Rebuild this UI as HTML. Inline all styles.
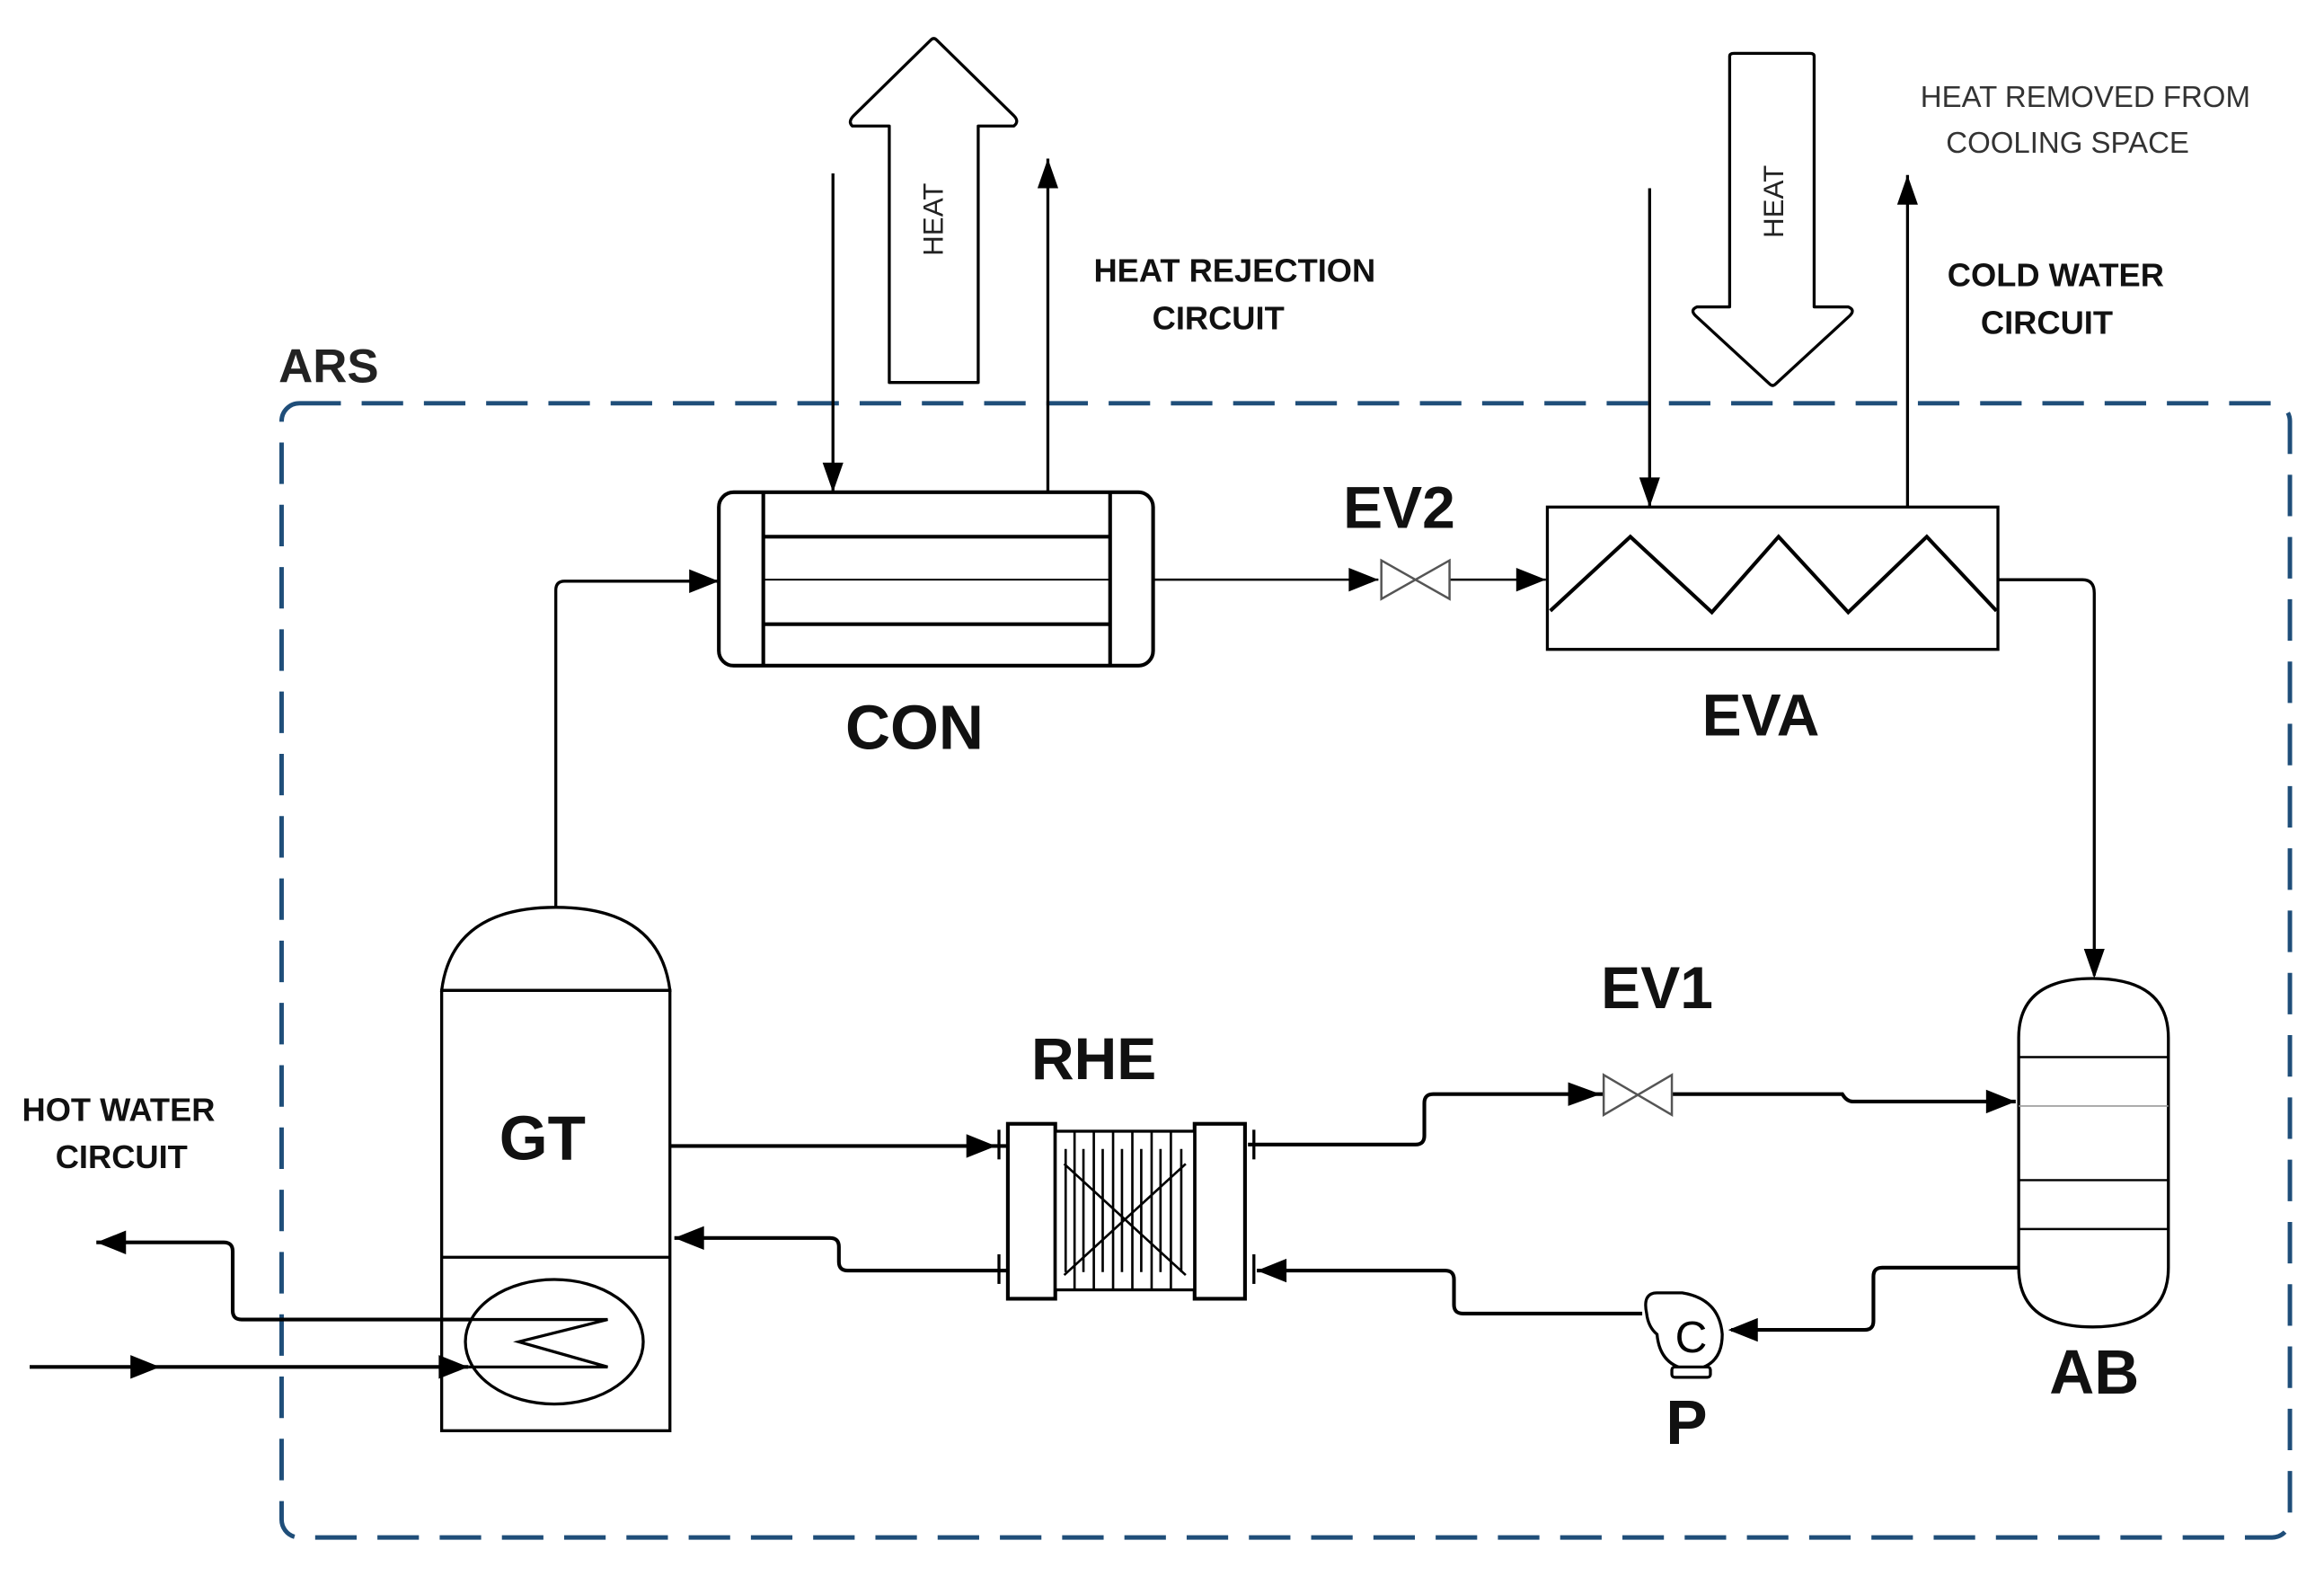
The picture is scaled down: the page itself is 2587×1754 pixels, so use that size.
<!DOCTYPE html>
<html><head><meta charset="utf-8"><style>
html,body{margin:0;padding:0;background:#fff;}
svg{display:block;}
text{font-family:"Liberation Sans",Arial,sans-serif;}
</style></head><body>
<svg width="2587" height="1754" viewBox="0 0 1568 1063" preserveAspectRatio="none" xmlns="http://www.w3.org/2000/svg">
<defs>
<marker id="a" viewBox="0 0 10 10" refX="10" refY="5" markerWidth="7" markerHeight="7" orient="auto" markerUnits="userSpaceOnUse"><path d="M0,0 L10,5 L0,10 z" fill="#000"/></marker>
</defs>
<rect width="1568" height="1063" fill="#fff"/>
<!-- dashed boundary -->
<rect x="190" y="272" width="1355" height="765" rx="12" fill="none" stroke="#1f4e79" stroke-width="3" stroke-dasharray="28 14"/>
<text x="188" y="258" font-size="32" font-weight="bold" fill="#222">ARS</text>

<g fill="none" stroke="#000" stroke-width="2.5">
<!-- CON -->
<rect x="485" y="332" width="293" height="117" rx="10" fill="#fff"/>
<line x1="515" y1="332" x2="515" y2="449"/><line x1="749" y1="332" x2="749" y2="449"/>
<line x1="515" y1="362" x2="749" y2="362"/><line x1="515" y1="421" x2="749" y2="421"/>
<line x1="515" y1="391" x2="749" y2="391" stroke-width="1.2"/>
<!-- GT to CON -->
<path d="M375,612 V398 Q375,392 381,392 H485" stroke-width="2" marker-end="url(#p)"/>
<!-- heat rejection lines -->
<line x1="562" y1="117" x2="562" y2="332" stroke-width="2"/>
<line x1="707" y1="332" x2="707" y2="107" stroke-width="2"/>
<!-- CON to EV2 -->
<line x1="778" y1="391" x2="930" y2="391" stroke-width="1.5"/>
<line x1="978" y1="391" x2="1043" y2="391" stroke-width="1.5"/>
<!-- EVA -->
<rect x="1044" y="342" width="304" height="96" fill="#fff" stroke-width="2"/>
<line x1="1044" y1="412" x2="1348" y2="412" stroke-width="0"/>
<polyline points="1046,412 1100,362 1155,413 1200,362 1247,413 1300,362 1347,412" stroke-width="2.5"/>
<line x1="1113" y1="127" x2="1113" y2="342" stroke-width="2"/>
<line x1="1287" y1="342" x2="1287" y2="118" stroke-width="2"/>
<!-- EVA to AB -->
<path d="M1348,391 H1405 Q1413,391 1413,400 V658" stroke-width="2"/>
<!-- AB -->
<path d="M1362,700 Q1362,660 1412,660 Q1463,660 1463,700 V855 Q1463,895 1412,895 Q1362,895 1362,855 Z" fill="#fff" stroke-width="2"/>
<line x1="1362" y1="713" x2="1463" y2="713" stroke-width="1.5"/>
<line x1="1362" y1="746" x2="1463" y2="746" stroke-width="1" stroke="#999"/>
<line x1="1362" y1="796" x2="1463" y2="796" stroke-width="1.5"/>
<line x1="1362" y1="829" x2="1463" y2="829" stroke-width="1.5"/>
<!-- RHE to EV1 -->
<path d="M842,772 H955 Q961,772 961,766 V744 Q961,738 967,738 H1082" stroke-width="2.5"/>
<path d="M1128,738 H1243 Q1246,743 1250,743 H1360" stroke-width="2.5"/>
<!-- AB to pump -->
<path d="M1362,855 H1270 Q1264,855 1264,861 V891 Q1264,897 1258,897 H1168" stroke-width="2.5"/>
<!-- pump to RHE -->
<path d="M1108,886 H987 Q981,886 981,880 V863 Q981,857 975,857 H848" stroke-width="2.5"/>
<!-- pump -->
<path d="M1111,886 Q1108,872 1118,872 H1135 Q1160,876 1162,900 Q1162,922 1141,924 Q1120,922 1118,900 Q1112,895 1111,886 Z" fill="#fff" stroke-width="2"/>
<rect x="1128" y="922" width="26" height="7" rx="2" fill="#fff" stroke-width="2"/>
<!-- RHE -->
<rect x="680" y="758" width="32" height="118" fill="#fff"/>
<rect x="806" y="758" width="34" height="118" fill="#fff"/>
<rect x="712" y="763" width="94" height="107" fill="#fff" stroke-width="2"/>
<g stroke-width="1.6">
<line x1="725" y1="763" x2="725" y2="870"/><line x1="738" y1="763" x2="738" y2="870"/><line x1="751" y1="763" x2="751" y2="870"/>
<line x1="764" y1="763" x2="764" y2="870"/><line x1="777" y1="763" x2="777" y2="870"/><line x1="790" y1="763" x2="790" y2="870"/>
<line x1="719" y1="775" x2="719" y2="858"/><line x1="731" y1="775" x2="731" y2="858"/><line x1="744" y1="775" x2="744" y2="858"/>
<line x1="757" y1="775" x2="757" y2="858"/><line x1="770" y1="775" x2="770" y2="858"/><line x1="783" y1="775" x2="783" y2="858"/><line x1="797" y1="775" x2="797" y2="858"/>
<line x1="718" y1="785" x2="800" y2="860"/><line x1="800" y1="785" x2="718" y2="860"/>
</g>
<line x1="674" y1="762" x2="674" y2="782" stroke-width="2"/><line x1="674" y1="846" x2="674" y2="866" stroke-width="2"/>
<line x1="846" y1="762" x2="846" y2="782" stroke-width="2"/><line x1="846" y1="846" x2="846" y2="866" stroke-width="2"/>
<!-- GT to RHE -->
<line x1="452" y1="773" x2="680" y2="773" stroke-width="2.5"/>
<path d="M680,857 H572 Q566,857 566,851 V841 Q566,835 560,835 H455" stroke-width="2.5"/>
<!-- GT -->
<path d="M298,668 Q305,612 375,612 Q445,612 452,668 Z" fill="#fff" stroke-width="2"/>
<rect x="298" y="668" width="154" height="297" fill="none" stroke-width="2"/>
<line x1="298" y1="848" x2="452" y2="848" stroke-width="2"/>
<ellipse cx="374" cy="905" rx="60" ry="42" fill="#fff" stroke-width="2"/>
<polyline points="318,890 410,890 350,905 410,922 316,922" stroke-width="2"/>
<!-- hot water -->
<path d="M318,890 H163 Q157,890 157,884 V844 Q157,838 151,838 H65" stroke-width="2.5"/>
<line x1="20" y1="922" x2="316" y2="922" stroke-width="2.5"/>
</g>
<!-- arrowheads -->
<g fill="#000">
<path d="M485,392 l-20,-8 v16 z"/>
<path d="M562,332 l-7,-20 h14 z"/>
<path d="M707,107 l-7,20 h14 z"/>
<path d="M930,391 l-20,-8 v16 z"/>
<path d="M1043,391 l-20,-8 v16 z"/>
<path d="M1113,342 l-7,-20 h14 z"/>
<path d="M1287,118 l-7,20 h14 z"/>
<path d="M1413,660 l-7,-20 h14 z"/>
<path d="M1080,738 l-22,-8 v16 z"/>
<path d="M1360,743 l-20,-8 v16 z"/>
<path d="M1166,897 l20,-8 v16 z"/>
<path d="M848,857 l20,-8 v16 z"/>
<path d="M672,773 l-20,-8 v16 z"/>
<path d="M455,835 l20,-8 v16 z"/>
<path d="M65,838 l20,-8 v16 z"/>
<path d="M108,922 l-20,-8 v16 z"/>
<path d="M316,922 l-20,-8 v16 z"/>
</g>
<!-- valves -->
<g fill="#fff" stroke="#555" stroke-width="1.5">
<path d="M932,378 L978,404 V378 L932,404 Z"/>
<path d="M1082,725 L1128,752 V725 L1082,752 Z"/>
</g>
<!-- big hollow arrows -->
<path d="M600,258 V85 H575 Q572,82 576,78 L628,27 Q630,25 632,27 L684,78 Q688,82 684,85 H660 V258 Z" fill="#fff" stroke="#000" stroke-width="2" stroke-linejoin="round"/>
<text transform="translate(636,148) rotate(-90)" font-size="19" text-anchor="middle" fill="#222">HEAT</text>
<path d="M1167,38 Q1167,36 1170,36 H1221 Q1224,36 1224,38 V207 H1247 Q1252,209 1248,213 L1198,259 Q1196,261 1194,259 L1144,213 Q1140,209 1145,207 H1167 Z" fill="#fff" stroke="#000" stroke-width="2" stroke-linejoin="round"/>
<text transform="translate(1203,136) rotate(-90)" font-size="19" text-anchor="middle" fill="#222">HEAT</text>
<!-- pump C -->
<text x="1141" y="912" font-size="30" text-anchor="middle" fill="#000">C</text>
<!-- labels -->
<g font-weight="bold" fill="#111" text-anchor="middle">
<text x="617" y="505" font-size="42">CON</text>
<text x="944" y="356" font-size="40">EV2</text>
<text x="1188" y="496" font-size="40">EVA</text>
<text x="1118" y="680" font-size="40">EV1</text>
<text x="738" y="728" font-size="40">RHE</text>
<text x="366" y="782" font-size="42">GT</text>
<text x="1413" y="940" font-size="42">AB</text>
<text x="1138" y="974" font-size="42">P</text>
<text x="833" y="190" font-size="22">HEAT REJECTION</text>
<text x="822" y="222" font-size="22">CIRCUIT</text>
<text x="1387" y="193" font-size="22">COLD WATER</text>
<text x="1381" y="225" font-size="22">CIRCUIT</text>
<text x="80" y="756" font-size="22">HOT WATER</text>
<text x="82" y="788" font-size="22">CIRCUIT</text>
</g>
<g fill="#333" text-anchor="middle" font-size="20">
<text x="1407" y="72">HEAT REMOVED FROM</text>
<text x="1395" y="103">COOLING SPACE</text>
</g>
</svg>
</body></html>
